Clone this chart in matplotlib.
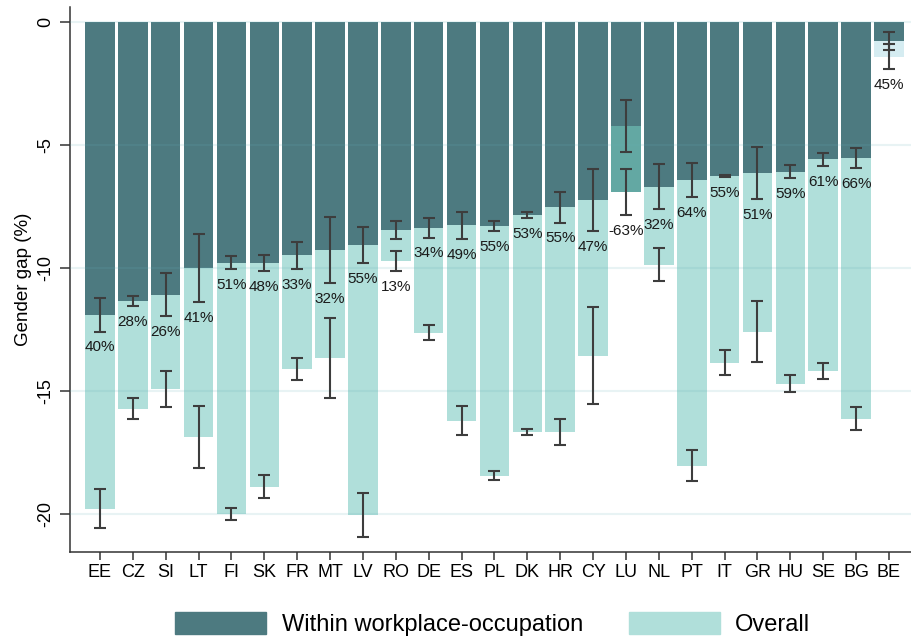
import numpy as np
import matplotlib
matplotlib.use("Agg")
import matplotlib.pyplot as plt
from matplotlib.patches import Patch

plt.rcParams['font.family'] = ['Liberation Sans', 'DejaVu Sans']

# data
countries = ["EE", "CZ", "SI", "LT", "FI", "SK", "FR", "MT", "LV", "RO", "DE", "ES", "PL",
             "DK", "HR", "CY", "LU", "NL", "PT", "IT", "GR", "HU", "SE", "BG", "BE"]
within = [-11.9, -11.34, -11.08, -10.01, -9.78, -9.78, -9.49, -9.26, -9.07, -8.46, -8.37, -8.27, -8.29,
          -7.86, -7.52, -7.22, -6.9, -6.69, -6.44, -6.26, -6.14, -6.08, -5.58, -5.53, -0.78]
within_ci = [0.68, 0.22, 0.88, 1.38, 0.27, 0.33, 0.55, 1.34, 0.72, 0.38, 0.39, 0.55, 0.19,
             0.12, 0.63, 1.26, 0.93, 0.9, 0.69, 0.03, 1.04, 0.26, 0.27, 0.4, 0.37]
overall = [-19.78, -15.72, -14.9, -16.86, -20.0, -18.89, -14.09, -13.65, -20.03, -9.7, -12.63, -16.2, -18.44,
           -16.65, -16.65, -13.56, -4.23, -9.86, -18.04, -13.85, -12.59, -14.7, -14.17, -16.12, -1.41]
overall_ci = [0.78, 0.43, 0.73, 1.26, 0.26, 0.47, 0.45, 1.62, 0.9, 0.41, 0.3, 0.59, 0.18,
              0.12, 0.53, 1.97, 1.07, 0.68, 0.63, 0.51, 1.23, 0.34, 0.33, 0.47, 0.52]
share = [40, 28, 26, 41, 51, 48, 33, 32, 55, 13, 34, 49, 55, 53, 55, 47, -63, 32, 64, 55, 51, 59, 61, 66, 45]

dark = "#4d7a80"
light = "#b0dfda"
medium = "#63a8a3"
pale = "#d5ecf1"

x = np.arange(len(countries))
w = np.array(within)
o = np.array(overall)
wci = np.array(within_ci)
oci = np.array(overall_ci)

fig = plt.figure(figsize=(9.11, 6.38), dpi=100)
ax = fig.add_axes([70/911, (638-551.7)/638, (911-70)/911, (551.7-7)/638])

# overall bars (BE drawn in a paler tone as in the original)
overall_colors = [pale if c == "BE" else light for c in countries]
ax.bar(x, o, width=0.9, color=overall_colors, zorder=1)
# within-only part
ax.bar(x, w, width=0.9, color=medium, zorder=0.5)
# overlapping part
overlap = np.where(np.abs(w) < np.abs(o), w, o)
ax.bar(x, overlap, width=0.9, color=dark, zorder=2)

# grid on top, faint
for yv in [0, -5, -10, -15, -20]:
    ax.axhline(yv, color="#66afb6", alpha=0.15, lw=1.5, zorder=3)

ax.errorbar(x, w, yerr=wci, fmt="none", ecolor="#3d3d3d", elinewidth=1.5, capsize=4.3, capthick=1.5, zorder=4)
ax.errorbar(x, o, yerr=oci, fmt="none", ecolor="#3d3d3d", elinewidth=1.5, capsize=4.3, capthick=1.5, zorder=4)

# share labels below the within-CI (or below the overall-CI if they'd collide)
for i in range(len(countries)):
    low_w = w[i] - wci[i]
    anchor = low_w
    if (o[i] + oci[i]) > low_w - 1.0 and (o[i] - oci[i]) < low_w:
        anchor = min(low_w, o[i] - oci[i])
    ax.annotate(f"{share[i]}%", (x[i], anchor), xytext=(0, -11.5), textcoords="offset points",
                ha="center", va="center", fontsize=11, color="#1a1a1a", zorder=5)

ax.set_xlim(-0.91, 24.67)
ax.set_ylim(-21.53, 0.61)
ax.set_xticks(x)
ax.set_xticklabels(countries, fontsize=13)
ax.set_yticks([0, -5, -10, -15, -20])
ax.set_yticklabels(["0", "-5", "-10", "-15", "-20"], fontsize=13, rotation=90, va="center")
ax.tick_params(axis="y", length=7.2, width=1.1, color="#333333", pad=4)
ax.tick_params(axis="x", length=5.8, width=1.1, color="#333333", pad=3)
ax.set_ylabel("Gender gap (%)", fontsize=13.5)
ax.yaxis.set_label_coords(-0.045, 0.5)

for s in ["top", "right"]:
    ax.spines[s].set_visible(False)
for s in ["left", "bottom"]:
    ax.spines[s].set_color("#333333")
    ax.spines[s].set_linewidth(1.1)

handles = [Patch(color=dark, label="Within workplace-occupation"),
           Patch(color=light, label="Overall")]
fig.legend(handles=handles, loc="center", bbox_to_anchor=(0.541, 0.022), ncol=2, frameon=False,
           fontsize=17, handlelength=3.85, handleheight=1.06, handletextpad=0.65, columnspacing=1.95)

fig.savefig("out.png", dpi=100)
